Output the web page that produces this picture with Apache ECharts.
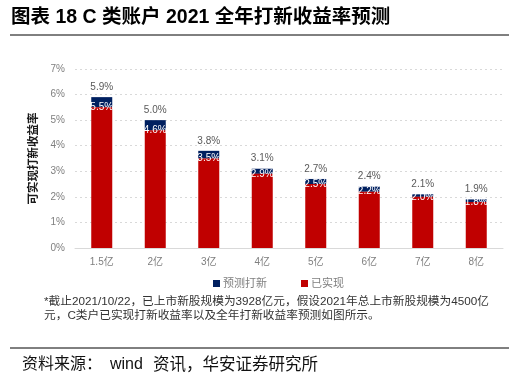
<!DOCTYPE html>
<html><head><meta charset="utf-8">
<script src="https://cdn.jsdelivr.net/npm/echarts@6/dist/echarts.min.js"></script>
<style>html,body{margin:0;padding:0;background:#fff}#c{width:509px;height:382px}</style>
</head><body><div id="c"></div>
<script>
const categories = ['1.5亿','2亿','3亿','4亿','5亿','6亿','7亿','8亿'];
const realized = [5.5, 4.6, 3.5, 2.9, 2.5, 2.2, 2.0, 1.8];
const totals = [5.9, 5.0, 3.8, 3.1, 2.7, 2.4, 2.1, 1.9];
const forecast = totals.map((t, i) => +(t - realized[i]).toFixed(1));
const yTicks = [0,1,2,3,4,5,6,7];

const FONT = '"Liberation Sans", "Noto Sans CJK SC", sans-serif';
const chart = echarts.init(document.getElementById('c'));
chart.setOption({
  animation: false,
  textStyle: { fontFamily: FONT },
  grid: { left: 75, right: 6, top: 69, bottom: 134 },
  legend: {
    data: ['预测打新', '已实现'],
    left: 208, top: 273,
    itemWidth: 7, itemHeight: 7, itemGap: 34,
    icon: 'rect',
    textStyle: { color: '#7f7f7f', fontSize: 11, padding: [0,0,0,-2] }
  },
  xAxis: {
    type: 'category', data: categories,
    axisLine: { lineStyle: { color: '#d9d9d9', width: 1 } },
    axisTick: { show: false },
    axisLabel: { color: '#7f7f7f', fontSize: 10, margin: 9 }
  },
  yAxis: {
    type: 'value', min: yTicks[0], max: yTicks[yTicks.length-1], interval: 1,
    name: '可实现打新收益率', nameLocation: 'middle', nameGap: 31, nameRotate: 90,
    nameTextStyle: { color: '#1a1a1a', fontSize: 11.5, fontWeight: 'bold' },
    axisLine: { show: false }, axisTick: { show: false },
    axisLabel: { color: '#7f7f7f', fontSize: 10, margin: 10, formatter: '{value}%' },
    splitLine: { lineStyle: { color: '#d9d9d9', type: [2, 3] } }
  },
  series: [
    {
      name: '已实现', type: 'bar', stack: 's', data: realized, barWidth: 21,
      itemStyle: { color: '#C00000' },
      label: { show: true, position: 'insideTop', distance: 0, offset: [0, -5],
        color: '#fff', fontSize: 10, formatter: p => p.value.toFixed(1) + '%' },
      z: 3
    },
    {
      name: '预测打新', type: 'bar', stack: 's', data: forecast, barWidth: 21,
      itemStyle: { color: '#002060' },
      label: { show: true, position: 'top', distance: 5, color: '#595959', fontSize: 10,
        formatter: p => totals[p.dataIndex].toFixed(1) + '%' },
      z: 2
    }
  ],
  graphic: [
    { type: 'text', left: 11, top: 8, style: { text: '图表 18 C 类账户 2021 全年打新收益率预测', font: 'bold 19.5px ' + FONT, fill: '#000' } },
    { type: 'line', shape: { x1: 10, y1: 35, x2: 509, y2: 35 }, style: { stroke: '#000', lineWidth: 1 } },
    { type: 'text', left: 44, top: 296, style: { text: '*截止2021/10/22，已上市新股规模为3928亿元，假设2021年总上市新股规模为4500亿', font: '11.7px ' + FONT, fill: '#333' } },
    { type: 'text', left: 44, top: 310, style: { text: '元，C类户已实现打新收益率以及全年打新收益率预测如图所示。', font: '11.7px ' + FONT, fill: '#333' } },
    { type: 'line', shape: { x1: 10, y1: 348, x2: 509, y2: 348 }, style: { stroke: '#000', lineWidth: 1 } },
    { type: 'text', left: 22, top: 357, style: { text: '资料来源：', font: '16px ' + FONT, fill: '#111' } },
    { type: 'text', left: 110, top: 357, style: { text: 'wind', font: '16px ' + FONT, fill: '#111' } },
    { type: 'text', left: 153, top: 357, style: { text: '资讯，华安证券研究所', font: '16.5px ' + FONT, fill: '#111' } }
  ]
});
</script></body></html>
